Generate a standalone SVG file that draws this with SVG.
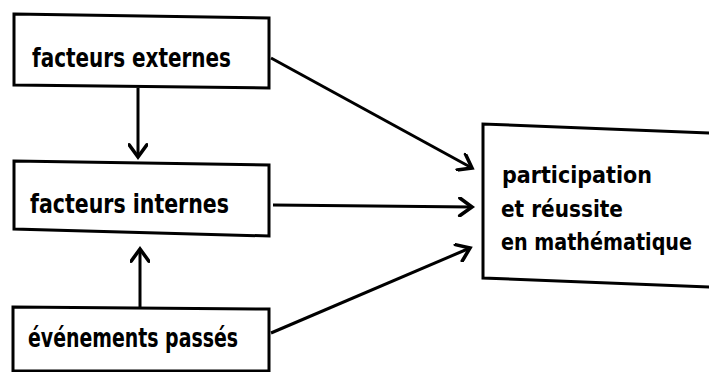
<svg xmlns="http://www.w3.org/2000/svg" width="709" height="372" viewBox="0 0 709 372">
<style>
.box{fill:#fff;stroke:#000;stroke-width:3;stroke-linejoin:miter}
.lbl{font-family:"DejaVu Sans Condensed","DejaVu Sans",sans-serif;font-weight:bold;font-size:26px;fill:#000}
.rl{font-size:23px}
.edge{fill:none;stroke:#000;stroke-width:3;marker-end:url(#ah)}
</style>
<defs>
<marker id="ah" markerUnits="userSpaceOnUse" markerWidth="20" markerHeight="20" viewBox="-1 -1 14 18" refX="11" refY="8" orient="auto">
<path d="M0,0 L11,8 L0,16" fill="none" stroke="#000" stroke-width="3.2" stroke-linecap="round" stroke-linejoin="miter"/>
</marker>
</defs>
<rect width="709" height="372" fill="#fff"/>
<g id="connectors">
<path class="edge" d="M271,58 L472,168"/>
<path class="edge" d="M273,205 L472,207"/>
<path class="edge" d="M271,333 L470,248"/>
<path class="edge" d="M138,88 L138,157"/>
<path class="edge" d="M140,307 L140,249"/>
</g>
<g id="facteurs-externes">
<path class="box" d="M14,14 L269,18 L269,88 L14,85 Z"/>
<text class="lbl" x="32" y="67" textLength="199" lengthAdjust="spacingAndGlyphs">facteurs externes</text>
</g>
<g id="facteurs-internes">
<path class="box" d="M14,161 L269,165 L269,236 L14,229 Z"/>
<text class="lbl" x="30" y="213" textLength="199" lengthAdjust="spacingAndGlyphs">facteurs internes</text>
</g>
<g id="evenements-passes">
<path class="box" d="M13,307 L269,309 L269,371 L13,371 Z"/>
<text class="lbl" x="28" y="347" textLength="210" lengthAdjust="spacingAndGlyphs">événements passés</text>
</g>
<g id="participation">
<path class="box" d="M712,133 L483,124 L483,278 L712,287"/>
<text class="lbl rl" x="502" y="183" textLength="150" lengthAdjust="spacingAndGlyphs">participation</text>
<text class="lbl rl" x="501" y="217" textLength="122" lengthAdjust="spacingAndGlyphs">et réussite</text>
<text class="lbl rl" x="501" y="250" textLength="191" lengthAdjust="spacingAndGlyphs">en mathématique</text>
</g>
</svg>
